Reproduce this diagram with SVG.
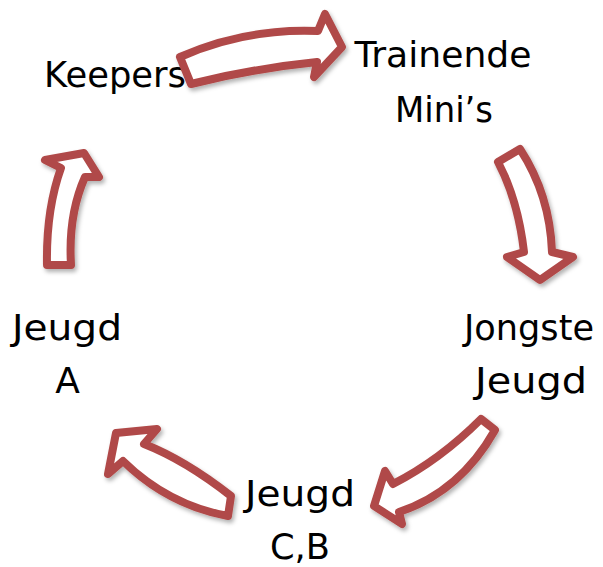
<svg xmlns="http://www.w3.org/2000/svg" width="603" height="567" viewBox="0 0 603 567">
<defs>
<style>
.lbl{font-family:"DejaVu Sans","Liberation Sans",sans-serif;font-size:36px;fill:#000;text-anchor:middle}
.arr{fill:#fff;stroke:#b04a48;stroke-width:8;stroke-linejoin:round;filter:url(#sh)}
</style>
<filter id="sh" x="-20%" y="-20%" width="150%" height="150%">
<feDropShadow dx="2" dy="3" stdDeviation="2" flood-color="#000" flood-opacity="0.3"/>
</filter>
</defs>
<rect width="603" height="567" fill="#fff"/>
<g id="keepers"><text class="lbl" x="115" y="87" textLength="142" lengthAdjust="spacingAndGlyphs">Keepers</text></g>
<g id="trainende-minis">
<text class="lbl" x="443" y="67" textLength="177" lengthAdjust="spacingAndGlyphs">Trainende</text>
<text class="lbl" x="444" y="122" textLength="98" lengthAdjust="spacingAndGlyphs">Mini’s</text>
</g>
<g id="jongste-jeugd">
<text class="lbl" x="529" y="340" textLength="130" lengthAdjust="spacingAndGlyphs">Jongste</text>
<text class="lbl" x="531" y="393" textLength="112" lengthAdjust="spacingAndGlyphs">Jeugd</text>
</g>
<g id="jeugd-cb">
<text class="lbl" x="300" y="506" textLength="110" lengthAdjust="spacingAndGlyphs">Jeugd</text>
<text class="lbl" x="300" y="559" textLength="60" lengthAdjust="spacingAndGlyphs">C,B</text>
</g>
<g id="jeugd-a">
<text class="lbl" x="67" y="340" textLength="110" lengthAdjust="spacingAndGlyphs">Jeugd</text>
<text class="lbl" x="67.5" y="393">A</text>
</g>
<g id="connectors">
<path class="arr" d="M180,57 Q245,28 318,31 L325,14 L342,47 L314,77 L317,62 Q255,68 191,84 Z"/>
<path class="arr" d="M498,162 Q518,200 524,252 L507,257 L540,280 L573,257 L552,252 Q550,195 520,149 Z"/>
<path class="arr" d="M481,419 Q440,460 393,484 L385,471 L374,506 L402,524 L399,512 Q460,492 495,430 Z"/>
<path class="arr" d="M231,496 Q185,460 144,444 L157,429 L116,433 L108,474 L123,461 Q168,505 228,516 Z"/>
<path class="arr" d="M47,265 Q46,210 61,168 L45,160 L84,153 L99,177 L85,177 Q68,215 71,265 Z"/>
</g>
</svg>
